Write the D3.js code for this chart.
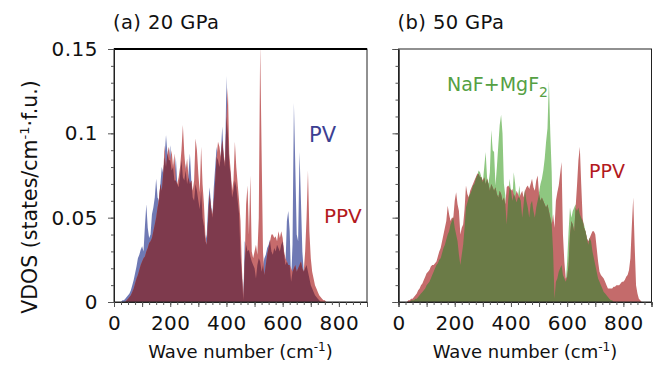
<!DOCTYPE html>
<html>
<head>
<meta charset="utf-8">
<script src="https://cdn.jsdelivr.net/npm/d3@7"></script>
<style>
  body { margin: 0; background: #fff; }
  svg { display: block; font-family: "DejaVu Sans", sans-serif; }
</style>
</head>
<body>
<svg id="chart" width="653" height="366"></svg>
<script>
// wave number grid, cm-1
const waveNumber = d3.range(0, 905, 5);

// VDOS values in 1e-3 states/cm-1/f.u., one value per grid point
const pvA = [
  0,0,0,0,0,0,1,1,2,3,4,5,7,10,13,17,21,26,28,31,
  33,30,45,58,44,38,40,52,56,62,73,62,60,70,80,76,86,99,88,84,
  93,78,82,72,86,70,68,75,84,74,72,82,70,76,88,72,62,60,70,66,
  60,55,66,50,45,36,40,58,68,58,50,68,80,92,84,80,88,104,86,80,
  134,100,82,75,62,66,72,68,60,52,28,15,1,36,34,30,31,27,24,22,
  20,14,22,26,24,18,22,26,28,32,34,37,30,28,32,30,34,32,30,34,
  36,28,22,48,54,42,12,34,118,80,40,36,89,60,30,18,20,22,18,14,
  10,8,6,4,3,2,1,0,0,0,0,0,0,0,0,0,0,0,0,0,
  0,0,0,0,0,0,0,0,0,0,0,0,0,0,0,0,0,0,0,0,0
];
const ppvA = [
  0,0,0,0,0,0,0,0,0,1,2,3,4,6,8,11,14,16,19,22,
  24,26,27,30,32,35,36,38,42,46,50,56,62,70,66,76,93,80,88,92,
  84,90,80,88,72,70,74,80,90,105,88,78,85,74,70,72,66,72,97,90,
  76,65,92,70,58,40,34,50,64,56,52,60,72,86,95,92,86,96,88,82,
  110,127,88,78,66,72,95,80,70,60,48,20,3,24,58,69,40,75,30,26,
  30,34,28,50,153,90,30,16,22,28,32,36,40,40,38,39,36,42,38,42,
  38,30,26,24,22,22,20,18,20,22,18,20,22,24,20,18,30,50,78,42,
  26,18,14,10,8,6,4,3,2,1,1,0,0,0,0,0,0,0,0,0,
  0,0,0,0,0,0,0,0,0,0,0,0,0,0,0,0,0,0,0,0,0
];
const ppvB = [
  0,0,0,0,0,0,0,1,1,2,2,3,4,5,7,8,10,11,13,15,
  17,18,19,21,22,22,23,24,27,30,32,36,40,44,48,57,52,48,50,50,
  60,65,58,54,40,44,46,55,69,64,62,66,68,70,72,74,76,76,74,74,
  72,74,70,73,70,66,70,68,66,68,64,62,66,64,60,62,58,68,69,68,
  66,67,64,62,66,64,62,64,66,62,66,68,69,67,70,73,68,66,72,75,
  64,60,62,60,58,56,58,54,50,46,52,44,60,65,69,76,83,40,24,14,
  15,22,40,48,46,42,56,69,84,92,70,50,44,42,38,36,38,40,42,42,
  40,32,24,18,16,15,14,12,10,8,8,8,8,9,9,10,10,10,11,12,
  12,13,15,16,19,26,45,62,34,10,5,2,1,0,0,0,0,0,0,0,0
];
const nafB = [
  0,0,0,0,0,0,0,0,0,1,1,1,2,2,3,4,5,6,7,8,
  10,11,12,14,16,18,20,22,23,25,26,29,32,34,37,40,42,46,48,51,
  44,40,36,28,22,28,34,44,56,59,63,64,66,69,70,73,75,78,77,74,
  71,80,89,74,70,77,102,90,89,69,80,93,105,111,100,70,63,46,60,73,
  66,60,77,70,59,62,69,60,50,58,67,60,56,50,58,60,54,50,56,60,
  65,70,73,78,85,95,103,131,100,77,30,2,12,14,18,20,22,16,14,12,
  24,42,56,50,54,56,58,54,56,52,50,48,46,42,38,34,38,36,30,26,
  22,18,14,12,10,8,6,5,4,3,2,1,1,0,0,0,0,0,0,0,
  0,0,0,0,0,0,0,0,0,0,0,0,0,0,0,0,0,0,0,0,0
];

const yTicks = [0, 0.05, 0.1, 0.15];
const yTickLabels = ["0", "0.05", "0.1", "0.15"];
const xTicks = [0, 200, 400, 600, 800];

const svg = d3.select("#chart");
const plotTop = 49, plotBottom = 302;

const y = d3.scaleLinear().domain([0, 0.15]).range([plotBottom, plotTop]);

function panel(id, left, right, title, series, showYLabels, boldTop) {
  const x = d3.scaleLinear().domain([0, 900]).range([left, right]);
  const g = svg.append("g");

  svg.append("clipPath").attr("id", "clip" + id)
    .append("rect").attr("x", left).attr("y", plotTop)
    .attr("width", right - left).attr("height", plotBottom - plotTop);

  const area = vals => d3.area()
    .x((d, i) => x(waveNumber[i]))
    .y0(plotBottom)
    .y1((d, i) => y(vals[i] / 1000))(waveNumber);

  const plot = g.append("g").attr("clip-path", `url(#clip${id})`);
  series.slice(0, 2).forEach(s => {
    plot.append("path").attr("d", area(s.values)).attr("fill", s.color);
  });
  // overlap of the two spectra
  const both = waveNumber.map((w, i) => Math.min(series[0].values[i], series[1].values[i]));
  plot.append("path").attr("d", area(both)).attr("fill", series[2]);

  // frame
  g.append("rect").attr("x", left).attr("y", plotTop)
    .attr("width", right - left).attr("height", plotBottom - plotTop)
    .attr("fill", "none").attr("stroke", "#222").attr("stroke-width", 1);
  if (boldTop) {
    g.append("line").attr("x1", left).attr("x2", right).attr("y1", plotTop).attr("y2", plotTop)
      .attr("stroke", "#000").attr("stroke-width", 2.2);
  }

  // y axis
  const ya = g.append("g").attr("transform", `translate(${left},0)`)
    .call(d3.axisLeft(y).tickValues(yTicks).tickSize(6)
      .tickFormat((d, i) => showYLabels ? yTickLabels[i] : ""));
  g.append("g").attr("transform", `translate(${left},0)`)
    .call(d3.axisLeft(y).tickValues(d3.range(0, 0.1501, 0.01)).tickSize(3).tickFormat(""));

  // x axis
  const xa = g.append("g").attr("transform", `translate(0,${plotBottom})`)
    .call(d3.axisBottom(x).tickValues(d3.range(0, 901, 100)).tickSize(5)
      .tickFormat(d => xTicks.includes(d) ? d : ""));
  g.append("g").attr("transform", `translate(0,${plotBottom})`)
    .call(d3.axisBottom(x).tickValues(d3.range(0, 901, 25)).tickSize(3).tickFormat(""));

  g.selectAll(".domain").attr("stroke", "#222");
  g.selectAll(".tick line").attr("stroke", "#555");
  g.selectAll(".tick text").attr("fill", "#111").style("font-size", "20px")
    .style("letter-spacing", "0.5px").style("font-family", "DejaVu Sans, sans-serif");
  xa.selectAll(".tick text").attr("y", 14);
  ya.selectAll(".tick text").attr("x", -16);

  // x title
  const xt = g.append("text").attr("x", (left + right) / 2).attr("y", 358)
    .attr("text-anchor", "middle").style("font-size", "18px").attr("fill", "#111");
  xt.append("tspan").text("Wave number (cm");
  xt.append("tspan").text("-1").attr("dy", -7).style("font-size", "12px");
  xt.append("tspan").text(")").attr("dy", 7);

  // panel title
  g.append("text").attr("x", left - 1).attr("y", 29).text(title)
    .style("font-size", "19.5px").attr("fill", "#111").style("letter-spacing", "0.4px");

  return x;
}

panel("a", 114, 367, "(a) 20 GPa",
  [{ values: pvA, color: "#6f79b4" }, { values: ppvA, color: "#c66b6c" }, "#7e3a4d"],
  true, true);
panel("b", 398.5, 651.5, "(b) 50 GPa",
  [{ values: nafB, color: "#8ec780" }, { values: ppvB, color: "#c46b6b" }, "#6b7b47"],
  false, false);

// y axis title
const yt = svg.append("text").attr("transform", "translate(37,197) rotate(-90)")
  .attr("text-anchor", "middle").style("font-size", "20.5px").attr("fill", "#111");
yt.append("tspan").text("VDOS (states/cm");
yt.append("tspan").text("-1").attr("dy", -8).style("font-size", "13px");
yt.append("tspan").text("·f.u.)").attr("dy", 8);

// series labels
svg.append("text").attr("x", 309).attr("y", 142).text("PV")
  .style("font-size", "21px").attr("fill", "#3c4092");
svg.append("text").attr("x", 324).attr("y", 223).text("PPV")
  .style("font-size", "20px").attr("fill", "#b3191d");
const naf = svg.append("text").attr("x", 447).attr("y", 91)
  .style("font-size", "19px").attr("fill", "#55a043");
naf.append("tspan").text("NaF+MgF");
naf.append("tspan").text("2").attr("dy", 6).style("font-size", "14px");
svg.append("text").attr("x", 589).attr("y", 178).text("PPV")
  .style("font-size", "19px").attr("fill", "#b3191d");
</script>
</body>
</html>
